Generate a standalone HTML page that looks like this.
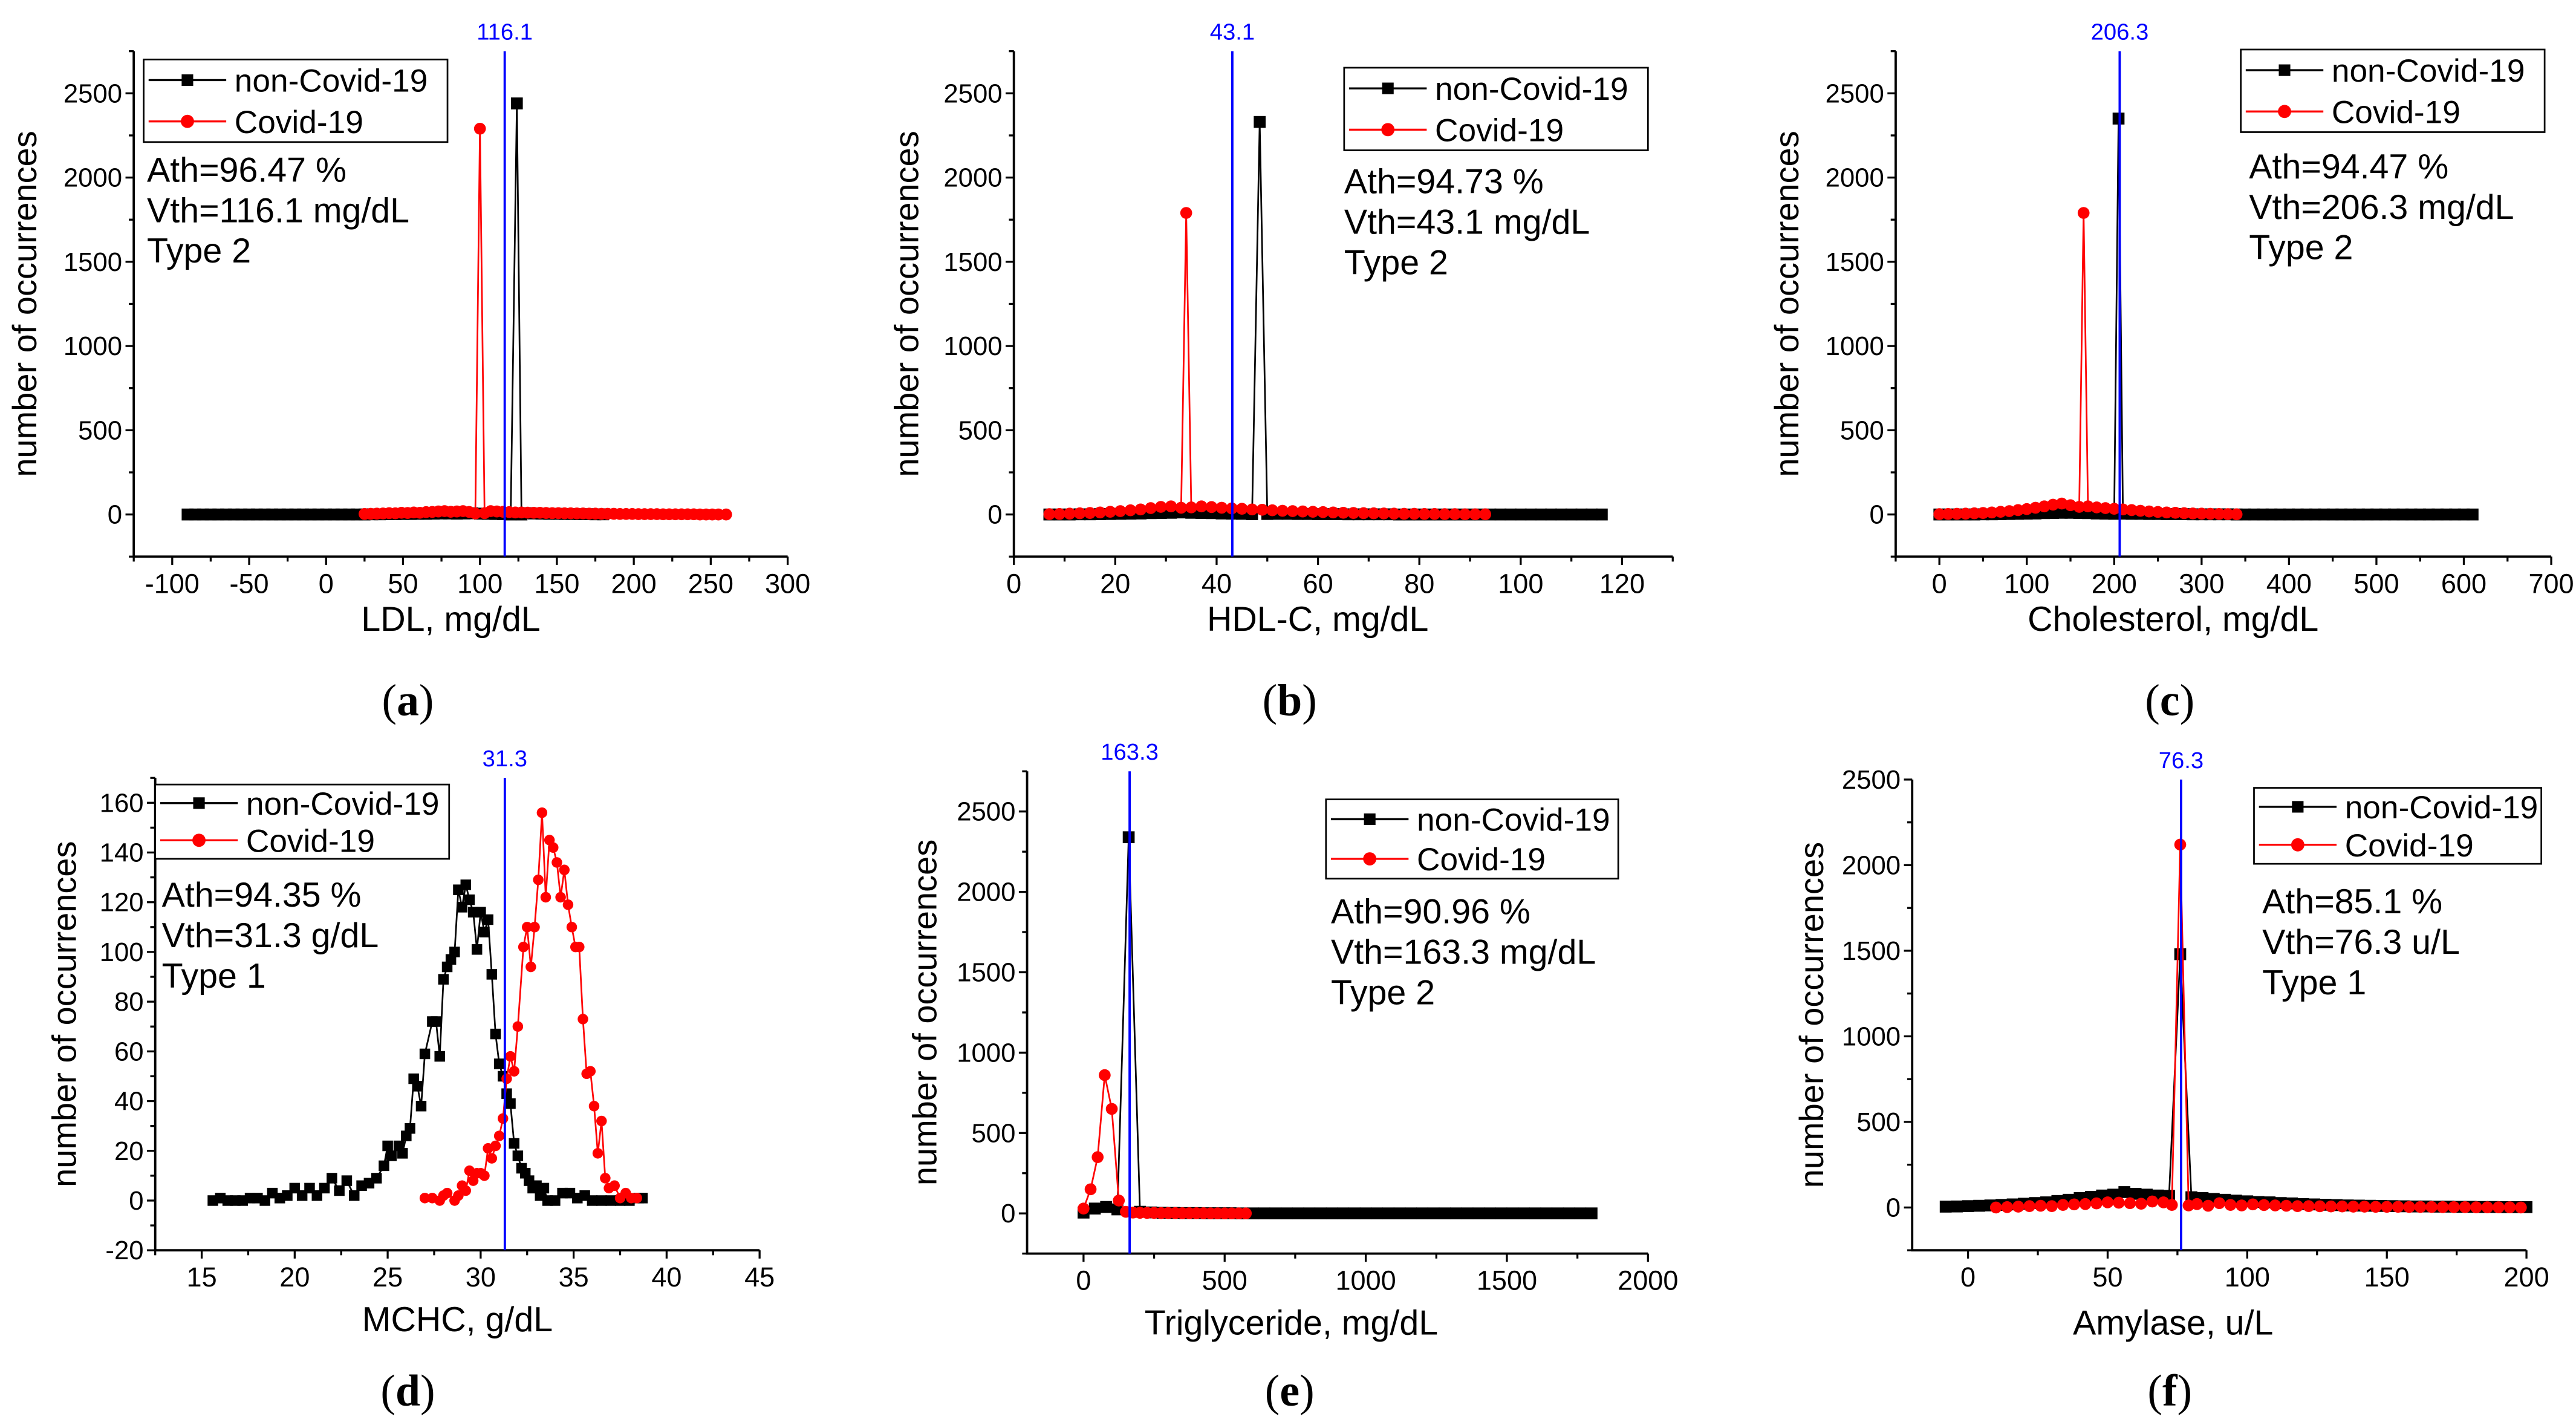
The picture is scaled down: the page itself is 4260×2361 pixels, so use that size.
<!DOCTYPE html>
<html><head><meta charset="utf-8"><title>Histograms</title>
<style>html,body{margin:0;padding:0;background:#fff;}svg{display:block;}</style></head>
<body>
<svg id="fig" xmlns="http://www.w3.org/2000/svg" width="4260" height="2361" viewBox="0 0 1560 864.6" preserveAspectRatio="none" font-family="'Liberation Sans', sans-serif"></svg>
<script>
// ---------- DATA ----------
const aBlackX=[-90,-85,-80,-75,-70,-65,-60,-55,-50,-45,-40,-35,-30,-25,-20,-15,-10,-5,0,5,10,15,20,25,30,35,40,45,50,55,60,65,70,75,80,85,90,95,100,105,110,115,120,124,127,130,135,140,145,150,155,160,165,170,175,180];
const aBlackY=[0,0,0,0,0,0,0,0,0,0,0,0,0,0,0,0,0,0,0,0,0,0,0,0,1,1,2,2,3,3,4,4,5,6,6,5,6,7,5,4,3,2,0,2440,0,8,6,5,4,4,3,3,2,2,1,1];
const aRedX=[25,29,33,37,41,45,49,53,57,61,65,69,73,77,81,85,89,93,97,100,103,107,111,115,119,123,127,131,135,139,143,147,151,155,159,163,167,171,175,179,183,187,191,195,199,203,207,211,215,219,223,227,231,235,239,243,247,251,255,260];
const aRedY=[3,4,5,6,8,7,10,9,12,10,14,15,18,20,16,18,20,15,6,2290,8,20,18,16,14,12,12,11,10,10,9,8,8,7,7,6,6,5,5,4,4,4,3,3,3,2,2,2,2,1,1,1,1,1,1,0,0,0,0,0];
const bBlackX=[7,9,11,13,15,17,19,21,23,25,27,29,31,33,35,37,39,41,43,45,47,48.5,50,52,54,56,58,60,62,64,66,68,70,72,74,76,78,80,82,84,86,88,90,92,94,96,98,100,102,104,106,108,110,112,114,116];
const bBlackY=[0,0,0,1,1,2,3,4,5,6,8,9,10,12,10,9,8,6,5,4,2,2330,3,4,4,3,3,2,2,2,1,1,1,1,1,0,0,0,0,0,0,0,0,0,0,0,0,0,0,0,0,0,0,0,0,0];
const bRedX=[7,9,11,13,15,17,19,21,23,25,27,29,31,33,34,35,37,39,41,43,45,47,49,51,53,55,57,59,61,63,65,67,69,71,73,75,77,79,81,83,85,87,89,91,93];
const bRedY=[2,3,5,7,9,12,16,20,25,30,38,45,48,40,1790,42,48,44,40,36,34,30,28,25,22,20,18,16,14,12,10,9,8,7,6,5,4,4,3,3,2,2,1,1,1];
const cBlackX=[0,10,20,30,40,50,60,70,80,90,100,110,120,130,140,150,160,170,180,190,200,205,210,220,230,240,250,260,270,280,290,300,310,320,330,340,350,360,370,380,390,400,410,420,430,440,450,460,470,480,490,500,510,520,530,540,550,560,570,580,590,600,610];
const cBlackY=[0,0,0,0,0,1,1,2,3,4,5,6,8,9,10,10,9,8,6,5,4,2350,5,4,4,3,3,2,2,2,1,1,1,1,1,0,0,0,0,0,0,0,0,0,0,0,0,0,0,0,0,0,0,0,0,0,0,0,0,0,0,0,0];
const cRedX=[0,10,20,30,40,50,60,70,80,90,100,110,120,130,140,150,160,165,170,180,190,200,210,220,230,240,250,260,270,280,290,300,310,320,330,340];
const cRedY=[2,3,4,5,7,9,12,16,20,26,32,40,48,58,65,55,45,1790,48,42,38,34,30,26,22,18,15,12,10,8,6,5,4,3,2,1];
const dBlackX=[15.6,16,16.4,16.8,17.2,17.6,18,18.4,18.8,19.2,19.6,20,20.4,20.8,21.2,21.6,22,22.4,22.8,23.2,23.6,24,24.4,24.8,25,25.2,25.6,25.8,26,26.2,26.4,26.6,26.8,27,27.4,27.6,27.8,28,28.2,28.4,28.6,28.8,29,29.2,29.4,29.6,29.8,30,30.2,30.4,30.6,30.8,31,31.2,31.4,31.6,31.8,32,32.2,32.4,32.6,32.8,33,33.2,33.4,33.6,34,34.4,34.8,35.2,35.6,36,36.5,37,37.5,38,38.5,38.7];
const dBlackY=[0,1,0,0,0,1,1,0,3,1,2,5,2,5,2,5,9,4,8,2,6,7,9,14,22,18,22,19,26,29,49,46,38,59,72,72,58,89,94,97,100,125,118,127,121,116,101,116,108,113,91,67,55,50,43,39,23,18,13,11,8,5,6,2,5,0,0,3,3,1,2,0,0,0,0,0,1,1];
const dRedX=[27,27.4,27.8,28,28.2,28.6,28.8,29,29.2,29.4,29.6,29.8,30,30.2,30.4,30.6,30.8,31,31.2,31.4,31.6,31.8,32,32.3,32.5,32.7,32.9,33.1,33.3,33.5,33.7,33.9,34.1,34.3,34.5,34.7,34.9,35.1,35.3,35.5,35.7,35.9,36.1,36.3,36.5,36.7,36.9,37.2,37.5,37.8,38.1,38.4];
const dRedY=[1,1,0,2,3,0,2,6,4,12,8,11,11,10,21,17,22,26,33,49,58,52,70,102,110,94,110,129,156,122,145,142,136,122,133,119,110,102,102,73,51,52,38,19,32,9,5,6,1,3,1,1];
const eBlackX=[0,40,80,120,160,200,240,280,320,360,400,440,480,520,560,600,640,680,720,760,800,840,880,920,960,1000,1040,1080,1120,1160,1200,1240,1280,1320,1360,1400,1440,1480,1520,1560,1600,1640,1680,1720,1760,1800];
const eBlackY=[5,30,40,25,2340,10,6,4,3,2,2,1,1,1,0,0,0,0,0,0,0,0,0,0,0,0,0,0,0,0,0,0,0,0,0,0,0,0,0,0,0,0,0,0,0,0];
const eRedX=[0,25,50,75,100,125,150,175,200,225,250,275,300,325,350,375,400,425,450,475,500,525,550,575];
const eRedY=[30,150,350,860,650,80,10,5,4,3,3,2,2,2,1,1,1,1,0,0,0,0,0,0];
const fBlackX=[-8,-4,0,4,8,12,16,20,24,28,32,36,40,44,48,52,56,60,64,68,72,76,80,84,88,92,96,100,104,108,112,116,120,124,128,132,136,140,144,148,152,156,160,164,168,172,176,180,184,188,192,196,200];
const fBlackY=[5,6,8,10,12,15,18,22,26,30,38,45,55,62,70,75,90,80,75,70,68,1480,60,55,50,45,40,36,32,30,26,24,20,18,16,14,12,11,10,9,8,7,6,6,5,5,4,4,3,3,2,2,2];
const fRedX=[10,14,18,22,26,30,34,38,42,46,50,54,58,62,66,70,73,76,79,82,86,90,94,98,102,106,110,114,118,122,126,130,134,138,142,146,150,154,158,162,166,170,174,178,182,186,190,194,198];
const fRedY=[0,2,5,8,10,8,15,18,20,24,30,28,25,22,35,30,15,2120,12,20,10,25,15,12,18,14,12,10,8,8,7,6,6,5,5,4,4,4,3,3,3,2,2,2,1,1,1,1,0];
const thresholds=[116.1,43.1,206.3,31.3,163.3,76.3];
const thresholdLabels=["116.1","43.1","206.3","31.3","163.3","76.3"];
const athTexts=["Ath=96.47 %","Ath=94.73 %","Ath=94.47 %","Ath=94.35 %","Ath=90.96 %","Ath=85.1 %"];
const vthTexts=["Vth=116.1 mg/dL","Vth=43.1 mg/dL","Vth=206.3 mg/dL","Vth=31.3 g/dL","Vth=163.3 mg/dL","Vth=76.3 u/L"];
const typeTexts=["Type 2","Type 2","Type 2","Type 1","Type 2","Type 1"];
const xTitles=["LDL, mg/dL","HDL-C, mg/dL","Cholesterol, mg/dL","MCHC, g/dL","Triglyceride, mg/dL","Amylase, u/L"];
const aXTicks=[-100,-50,0,50,100,150,200,250,300];
const bXTicks=[0,20,40,60,80,100,120];
const cXTicks=[0,100,200,300,400,500,600,700];
const dXTicks=[15,20,25,30,35,40,45];
const eXTicks=[0,500,1000,1500,2000];
const fXTicks=[0,50,100,150,200];
const bigYTicks=[0,500,1000,1500,2000,2500];
const dYTicks=[-20,0,20,40,60,80,100,120,140,160];

// ---------- LAYOUT ----------
const NS="http://www.w3.org/2000/svg";
const svg=document.getElementById('fig');
function mk(tag,attrs,parent){const e=document.createElementNS(NS,tag);for(const k in attrs)e.setAttribute(k,attrs[k]);(parent||svg).appendChild(e);return e;}
const P=[
 {id:'a',L:81,R:477,T:31,B:337,xmin:-125,xmax:300,ymin:-250,ymax:2750,xt:aXTicks,yt:bigYTicks,xminor:25,yminor:250,bx:aBlackX,by:aBlackY,rx:aRedX,ry:aRedY,leg:[87,36,271,86],ann:[89,110],ytx:22,xtc:273,xty:382,lab:[247,425],letter:'a'},
 {id:'b',L:614,R:1013,T:31,B:337,xmin:0,xmax:130,ymin:-250,ymax:2750,xt:bXTicks,yt:bigYTicks,xminor:10,yminor:250,bx:bBlackX,by:bBlackY,rx:bRedX,ry:bRedY,leg:[814,41,998,91],ann:[814,117],ytx:556,xtc:798,xty:382,lab:[781,425],letter:'b'},
 {id:'c',L:1148,R:1545,T:31,B:337,xmin:-50,xmax:700,ymin:-250,ymax:2750,xt:cXTicks,yt:bigYTicks,xminor:50,yminor:250,bx:cBlackX,by:cBlackY,rx:cRedX,ry:cRedY,leg:[1357,30,1541,80],ann:[1362,108],ytx:1089,xtc:1316,xty:382,lab:[1314,425],letter:'c'},
 {id:'d',L:94,R:460,T:471,B:757,xmin:12.5,xmax:45,ymin:-20,ymax:170,xt:dXTicks,yt:dYTicks,xminor:2.5,yminor:10,bx:dBlackX,by:dBlackY,rx:dRedX,ry:dRedY,leg:[94,475,272,520],ann:[98,549],ytx:46,xtc:277,xty:806,lab:[247,843],letter:'d'},
 {id:'e',L:622,R:998,T:467,B:759,xmin:-200,xmax:2000,ymin:-250,ymax:2750,xt:eXTicks,yt:bigYTicks,xminor:250,yminor:250,bx:eBlackX,by:eBlackY,rx:eRedX,ry:eRedY,leg:[803,484,980,532],ann:[806,559],ytx:567,xtc:782,xty:808,lab:[781,843],letter:'e'},
 {id:'f',L:1158,R:1530,T:472,B:757,xmin:-20,xmax:200,ymin:-250,ymax:2500,xt:fXTicks,yt:bigYTicks,xminor:25,yminor:250,bx:fBlackX,by:fBlackY,rx:fRedX,ry:fRedY,leg:[1365,477,1539,523],ann:[1370,553],ytx:1104,xtc:1316,xty:808,lab:[1314,843],letter:'f'}
];
P.forEach((p,i)=>{
 const sx=v=>p.L+(v-p.xmin)/(p.xmax-p.xmin)*(p.R-p.L);
 const sy=v=>p.B-(v-p.ymin)/(p.ymax-p.ymin)*(p.B-p.T);
 const g=mk('g',{});
 
 
 const ax=mk('path',{d:`M${p.L},${p.T}V${p.B}H${p.R}`,stroke:'#000','stroke-width':1.4,fill:'none'},g);
 
 
 for(let v=Math.ceil(p.xmin/p.xminor)*p.xminor;v<=p.xmax+1e-9;v+=p.xminor){
  const major=p.xt.some(t=>Math.abs(t-v)<1e-9);
  mk('line',{x1:sx(v),x2:sx(v),y1:p.B,y2:p.B+(major?5:3),stroke:'#000','stroke-width':1.2},g);
 }
 p.xt.forEach(v=>{const t=mk('text',{x:sx(v),y:p.B+22,'text-anchor':'middle','font-size':16.5},g);t.textContent=v;
  });
 for(let v=Math.ceil(p.ymin/p.yminor)*p.yminor;v<=p.ymax+1e-9;v+=p.yminor){
  const major=p.yt.some(t=>Math.abs(t-v)<1e-9);
  mk('line',{x1:p.L,x2:p.L-(major?5:3),y1:sy(v),y2:sy(v),stroke:'#000','stroke-width':1.2},g);
 }
 p.yt.forEach(v=>{const t=mk('text',{x:p.L-7,y:sy(v)+5.5,'text-anchor':'end','font-size':16},g);t.textContent=v;
  });
 const yt=mk('text',{x:0,y:0,transform:`translate(${p.ytx},${(p.T+p.B)/2}) rotate(-90)`,'text-anchor':'middle','font-size':20.5},g);
 yt.textContent='number of occurrences';
 
 const xt=mk('text',{x:p.xtc,y:p.xty,'text-anchor':'middle','font-size':21},g);
 xt.textContent=xTitles[i];
 
 const lb=mk('text',{x:p.lab[0],y:p.lab[1]+8,'text-anchor':'middle','font-size':27,'font-family':"'Liberation Serif', serif"},g);
 lb.innerHTML='(<tspan font-weight="bold">'+p.letter+'</tspan>)';
 
 const ms=p.id==='d'?3.2:3.6;
 const blk=mk('g',{},g);
 mk('polyline',{points:p.bx.map((x,k)=>sx(x)+','+sy(p.by[k])).join(' '),fill:'none',stroke:'#000','stroke-width':1},blk);
 p.bx.forEach((x,k)=>{const r=mk('rect',{x:sx(x)-ms,y:sy(p.by[k])-ms,width:2*ms,height:2*ms,fill:'#000'},blk);
  });
 const red=mk('g',{},g);
 mk('polyline',{points:p.rx.map((x,k)=>sx(x)+','+sy(p.ry[k])).join(' '),fill:'none',stroke:'#f00','stroke-width':1},red);
 p.rx.forEach((x,k)=>{const c=mk('circle',{cx:sx(x),cy:sy(p.ry[k]),r:ms,fill:'#f00'},red);
  });
 const th=mk('line',{x1:sx(thresholds[i]),x2:sx(thresholds[i]),y1:p.T,y2:p.B,stroke:'#00f','stroke-width':1.4},g);
 
 const tl=mk('text',{x:sx(thresholds[i]),y:p.T-7,'text-anchor':'middle','font-size':14,fill:'#00f'},g);
 tl.textContent=thresholdLabels[i];
 
 const [lx,ly,rx2,ry2]=p.leg;const lh=(ry2-ly)/2;
 const lg=mk('g',{},g);
 mk('rect',{x:lx,y:ly,width:rx2-lx,height:ry2-ly,fill:'#fff',stroke:'#000','stroke-width':1},lg);
 [[0,'#000','non-Covid-19','sq'],[1,'#f00','Covid-19','ci']].forEach(([j,col,txt,sh])=>{
  const cy=ly+lh*(j+0.5);
  mk('line',{x1:lx+3,x2:lx+50,y1:cy,y2:cy,stroke:col,'stroke-width':1.2},lg);
  if(sh==='sq')mk('rect',{x:lx+26.5-3.5,y:cy-3.5,width:7,height:7,fill:col},lg);
  else mk('circle',{cx:lx+26.5,cy:cy,r:4,fill:col},lg);
  const t=mk('text',{x:lx+55,y:cy+7,'font-size':19.5},lg);t.textContent=txt;
  
 });
 [athTexts[i],vthTexts[i],typeTexts[i]].forEach((s,j)=>{
  const t=mk('text',{x:p.ann[0],y:p.ann[1]+j*24.5,'font-size':21},g);t.textContent=s;
  
 });
});
</script>
</body></html>
